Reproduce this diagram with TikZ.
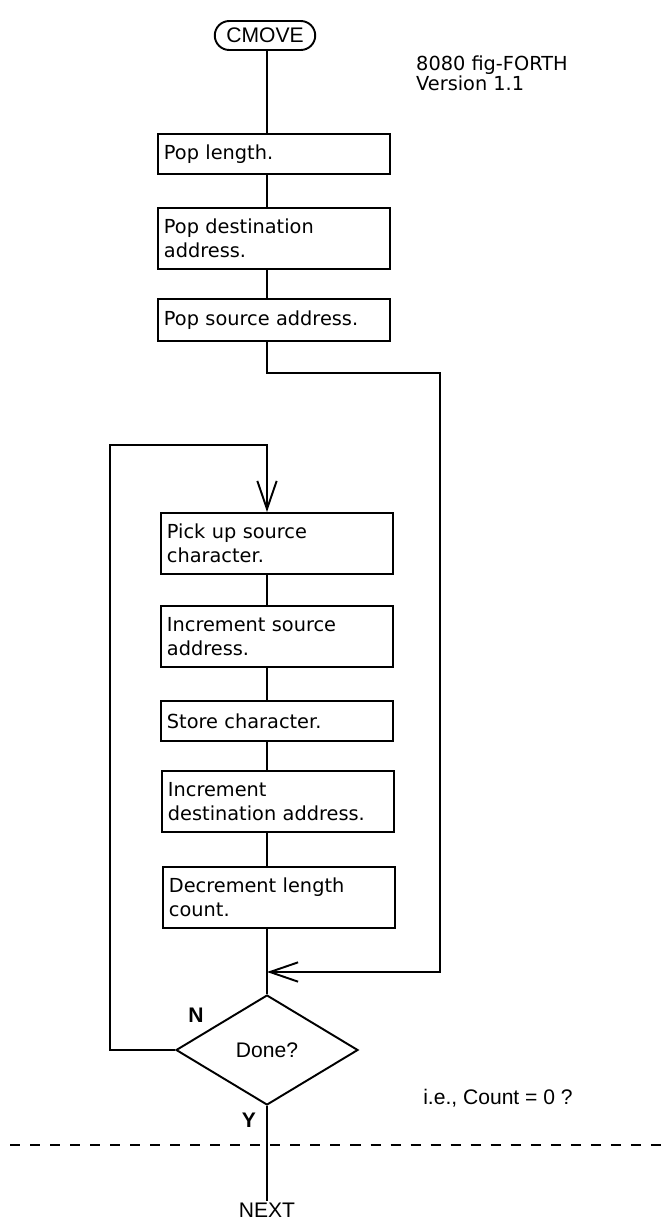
\documentclass[tikz,border=0pt]{standalone}
\usepackage{fontspec}
\setmainfont{DejaVu Sans}
\newfontfamily\helv{Liberation Sans}
\usetikzlibrary{shapes.geometric,shapes.misc,arrows.meta}

\begin{document}
\begin{tikzpicture}[x=0.02cm,y=-0.02cm,
    stepbox/.style={draw,line width=1.1pt,anchor=north west,text width=4.4cm,inner xsep=0.12cm,inner ysep=0pt,align=left,font=\fontsize{11}{13.5}\selectfont},
    onebox/.style={stepbox,minimum height=0.8cm},
    twobox/.style={stepbox,minimum height=1.22cm},
    flow/.style={line width=1.1pt},
    tip/.style={-{Straight Barb[length=16pt,width=11pt]}},
    lbl/.style={font=\helv\fontsize{12}{14}\selectfont,inner sep=1pt},
    yn/.style={font=\helv\bfseries\fontsize{12}{14}\selectfont,inner sep=1pt}]
  \useasboundingbox (0,0) rectangle (662,1225);
  \coordinate (spine) at (267,0);
  \node[lbl,draw,rounded rectangle,line width=1.1pt,minimum width=2.08cm,minimum height=0.58cm] (cmove) at (265,35.5) {CMOVE};
  \node[anchor=west,align=left,font=\fontsize{11}{11.5}\selectfont] (ver) at (410,73) {8080 fig-FORTH\\Version 1.1};
  \node[onebox] (b1) at (157,133) {Pop length.};
  \node[twobox] (b2) at (157,207) {Pop destination\\address.};
  \node[onebox,minimum height=0.84cm] (b3) at (157,298) {Pop source address.};
  \node[twobox] (b4) at (160,512) {Pick up source\\character.};
  \node[twobox] (b5) at (160,605) {Increment source\\address.};
  \node[onebox] (b6) at (160,700) {Store character.};
  \node[twobox] (b7) at (161,770) {Increment\\destination address.};
  \node[twobox] (b8) at (162,866) {Decrement length\\count.};
  \node[lbl,draw,diamond,line width=1.1pt,aspect=1.65,minimum width=3.64cm,minimum height=2.2cm,inner sep=0pt] (done) at (267,1050) {Done?};
  \node[yn] (nlab) at (196,1015) {N};
  \node[yn] (ylab) at (249,1120) {Y};
  \node[lbl] (iecount) at (498,1098) {i.e., Count = 0 ?};
  \node[lbl] (next) at (267,1210) {NEXT};
  \coordinate (bend) at (440,373);
  \coordinate (join) at (267,972);
  \coordinate (ltop) at (110,445);
  \draw[flow] (cmove.south -| spine) -- (b1.north -| spine);
  \foreach \a/\b in {b1/b2,b2/b3,b4/b5,b5/b6,b6/b7,b7/b8}
    \draw[flow] (\a.south -| spine) -- (\b.north -| spine);
  \draw[flow] (b8.south -| spine) -- (done.north);
  \draw[flow,tip] (b3.south -| spine) |- (bend) |- (join);
  \draw[flow,tip] (done.west) -| (ltop) -| (b4.north -| spine);
  \draw[flow] (done.south) -- (next.north);
  \draw[line width=0.9pt,dash pattern=on 5.7pt off 5.7pt] (10,1145) -- (662,1145);
\end{tikzpicture}
\end{document}
